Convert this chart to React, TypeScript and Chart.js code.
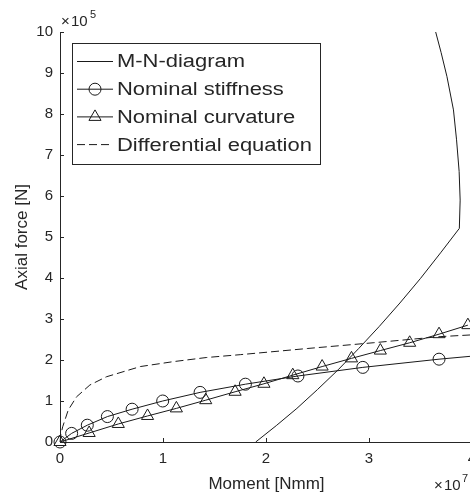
import React, { useEffect, useRef } from "react";
import { Chart, registerables } from "chart.js";

Chart.register(...registerables);

// Moment in units of 1e7 Nmm, axial force in units of 1e5 N
const X_TICKS = [0, 1, 2, 3, 4];
const Y_TICKS = [0, 1, 2, 3, 4, 5, 6, 7, 8, 9, 10];

const MN_MOMENT = [1.9, 2.1, 2.3, 2.5, 2.7, 2.9, 3.1, 3.3, 3.5, 3.7, 3.877, 3.885, 3.875, 3.85, 3.82, 3.757, 3.7, 3.64];
const MN_FORCE = [0, 0.4, 0.82, 1.28, 1.76, 2.28, 2.82, 3.39, 3.99, 4.63, 5.21, 5.9, 6.6, 7.37, 8.1, 8.91, 9.5, 10.07];

// last entry continues the curve past the axis limit (no marker)
const STIFFNESS_MOMENT = [0, 0.113, 0.265, 0.46, 0.7, 0.997, 1.36, 1.8, 2.31, 2.94, 3.68, 4.55];
const STIFFNESS_FORCE = [0, 0.21, 0.41, 0.62, 0.8, 1.0, 1.21, 1.41, 1.61, 1.82, 2.02, 2.22];

const CURVATURE_MOMENT = [0, 0.283, 0.566, 0.85, 1.13, 1.415, 1.7, 1.98, 2.26, 2.545, 2.83, 3.11, 3.395, 3.68, 3.96];
const CURVATURE_FORCE = [0, 0.22, 0.44, 0.635, 0.82, 1.02, 1.225, 1.42, 1.63, 1.84, 2.04, 2.23, 2.42, 2.63, 2.85];

const DIFF_MOMENT = [0, 0.008, 0.026, 0.08, 0.16, 0.29, 0.45, 0.78, 1.1, 1.42, 1.75, 2.4, 3.04, 3.69, 4.05];
const DIFF_FORCE = [0, 0.18, 0.37, 0.78, 1.1, 1.39, 1.59, 1.84, 1.96, 2.06, 2.13, 2.28, 2.42, 2.57, 2.62];

const LEGEND_LABELS = ["M-N-diagram", "Nominal stiffness", "Nominal curvature", "Differential equation"];

const AXIS_COLOR = "#262626";
const LINE_COLOR = "#1a1a1a";
const FONT = "'Liberation Sans', Arial, sans-serif";

const toPoints = (xs: number[], ys: number[]) => xs.map((x, i) => ({ x, y: ys[i] }));

function drawTriangle(ctx: CanvasRenderingContext2D, x: number, y: number, r: number) {
  ctx.beginPath();
  for (let k = 0; k < 3; k++) {
    const a = (k * 2 * Math.PI) / 3;
    const px = x + Math.sin(a) * r;
    const py = y - Math.cos(a) * r;
    if (k === 0) ctx.moveTo(px, py);
    else ctx.lineTo(px, py);
  }
  ctx.closePath();
  ctx.stroke();
}

function stretchedText(ctx: CanvasRenderingContext2D, text: string, x: number, y: number, sx: number) {
  ctx.save();
  ctx.translate(x, y);
  ctx.scale(sx, 1);
  ctx.fillText(text, 0, 0);
  ctx.restore();
}

const decorations = {
  id: "decorations",
  afterDraw(chart: any) {
    const { ctx, chartArea } = chart;
    const xs = chart.scales.x;
    const ys = chart.scales.y;
    ctx.save();

    // inward tick marks
    ctx.strokeStyle = AXIS_COLOR;
    ctx.lineWidth = 1;
    ctx.beginPath();
    X_TICKS.forEach((v) => {
      const px = Math.round(xs.getPixelForValue(v)) + 0.5;
      ctx.moveTo(px, chartArea.bottom);
      ctx.lineTo(px, chartArea.bottom - 4);
    });
    Y_TICKS.forEach((v) => {
      const py = Math.round(ys.getPixelForValue(v)) + 0.5;
      ctx.moveTo(chartArea.left, py);
      ctx.lineTo(chartArea.left + 4, py);
    });
    ctx.stroke();

    // axis titles
    ctx.fillStyle = AXIS_COLOR;
    ctx.font = `17px ${FONT}`;
    ctx.textAlign = "center";
    ctx.textBaseline = "alphabetic";
    ctx.fillText("Moment [Nmm]", (chartArea.left + chartArea.right) / 2 + 0.5, 489);
    ctx.save();
    ctx.translate(27, (chartArea.top + chartArea.bottom) / 2);
    ctx.rotate(-Math.PI / 2);
    ctx.fillText("Axial force [N]", 0, 0);
    ctx.restore();

    // exponent labels
    ctx.textAlign = "left";
    ctx.font = `15px ${FONT}`;
    ctx.fillText("\u00d7", 61, 26);
    ctx.fillText("10", 71, 26);
    ctx.font = `11px ${FONT}`;
    ctx.fillText("5", 90, 18);
    ctx.font = `15px ${FONT}`;
    ctx.fillText("\u00d7", 434, 490);
    ctx.fillText("10", 444, 490);
    ctx.font = `11px ${FONT}`;
    ctx.fillText("7", 462, 482);

    // legend box
    const bx = 72.5, by = 43.5, bw = 248, bh = 121;
    ctx.fillStyle = "#ffffff";
    ctx.fillRect(bx, by, bw, bh);
    ctx.strokeStyle = AXIS_COLOR;
    ctx.strokeRect(bx, by, bw, bh);

    const rowY = [61.5, 89.2, 116.9, 144.6];
    ctx.font = `18px ${FONT}`;
    ctx.textBaseline = "middle";
    LEGEND_LABELS.forEach((label, i) => {
      const y = rowY[i];
      ctx.strokeStyle = LINE_COLOR;
      ctx.lineWidth = 1;
      ctx.setLineDash(i === 3 ? [8, 4] : []);
      ctx.beginPath();
      ctx.moveTo(77, y);
      ctx.lineTo(113, y);
      ctx.stroke();
      ctx.setLineDash([]);
      if (i === 1) {
        ctx.beginPath();
        ctx.arc(95, y, 6, 0, Math.PI * 2);
        ctx.stroke();
      }
      if (i === 2) drawTriangle(ctx, 95, y, 7);
      ctx.fillStyle = AXIS_COLOR;
      stretchedText(ctx, label, 117, y + 1, 1.22);
    });

    ctx.restore();
  },
};

export default function App() {
  const canvasRef = useRef<HTMLCanvasElement | null>(null);

  useEffect(() => {
    const canvas = canvasRef.current;
    if (!canvas) return;
    const originClip = { left: 10, top: 0, right: 0, bottom: 10 };
    const chart = new Chart(canvas, {
      type: "scatter",
      data: {
        datasets: [
          {
            label: LEGEND_LABELS[0],
            data: toPoints(MN_MOMENT, MN_FORCE),
            showLine: true,
            borderColor: LINE_COLOR,
            borderWidth: 1,
            pointRadius: 0,
            tension: 0,
          },
          {
            label: LEGEND_LABELS[1],
            data: toPoints(STIFFNESS_MOMENT, STIFFNESS_FORCE),
            showLine: true,
            borderColor: LINE_COLOR,
            borderWidth: 1,
            pointStyle: "circle",
            pointRadius: STIFFNESS_MOMENT.map((_, i) => (i < STIFFNESS_MOMENT.length - 1 ? 6 : 0)),
            pointBorderColor: LINE_COLOR,
            pointBackgroundColor: "rgba(0,0,0,0)",
            pointBorderWidth: 1,
            clip: originClip,
          },
          {
            label: LEGEND_LABELS[2],
            data: toPoints(CURVATURE_MOMENT, CURVATURE_FORCE),
            showLine: true,
            borderColor: LINE_COLOR,
            borderWidth: 1,
            pointStyle: "triangle",
            pointRadius: 7,
            pointBorderColor: LINE_COLOR,
            pointBackgroundColor: "rgba(0,0,0,0)",
            pointBorderWidth: 1,
            clip: originClip,
          },
          {
            label: LEGEND_LABELS[3],
            data: toPoints(DIFF_MOMENT, DIFF_FORCE),
            showLine: true,
            borderColor: LINE_COLOR,
            borderWidth: 1,
            borderDash: [8, 4],
            pointRadius: 0,
            clip: originClip,
          },
        ],
      },
      options: {
        animation: false,
        responsive: false,
        maintainAspectRatio: false,
        devicePixelRatio: 1,
        layout: { padding: { top: 32, right: 18, left: 0, bottom: 0 } },
        plugins: { legend: { display: false }, tooltip: { enabled: false } },
        scales: {
          x: {
            type: "linear",
            min: 0,
            max: 4,
            afterFit: (s: any) => {
              s.height = 53;
            },
            afterBuildTicks: (s: any) => {
              s.ticks = X_TICKS.map((v) => ({ value: v }));
            },
            ticks: {
              color: AXIS_COLOR,
              font: { family: FONT, size: 15 },
              padding: 8,
              maxRotation: 0,
              autoSkip: false,
              callback: (v: any) => String(v),
            },
            grid: { display: false, drawTicks: false },
            border: { display: true, color: AXIS_COLOR, width: 1 },
          },
          y: {
            type: "linear",
            min: 0,
            max: 10,
            afterFit: (s: any) => {
              s.width = 60;
            },
            afterBuildTicks: (s: any) => {
              s.ticks = Y_TICKS.map((v) => ({ value: v }));
            },
            ticks: {
              color: AXIS_COLOR,
              font: { family: FONT, size: 15 },
              padding: 7,
              autoSkip: false,
              callback: (v: any) => String(v),
            },
            grid: { display: false, drawTicks: false },
            border: { display: true, color: AXIS_COLOR, width: 1 },
          },
        },
      },
      plugins: [decorations],
    });
    return () => chart.destroy();
  }, []);

  return (
    <div
      style={{
        position: "fixed",
        left: 0,
        top: 0,
        width: 470,
        height: 495,
        overflow: "hidden",
        background: "#ffffff",
      }}
    >
      <canvas ref={canvasRef} width={490} height={495} style={{ display: "block" }} />
    </div>
  );
}
